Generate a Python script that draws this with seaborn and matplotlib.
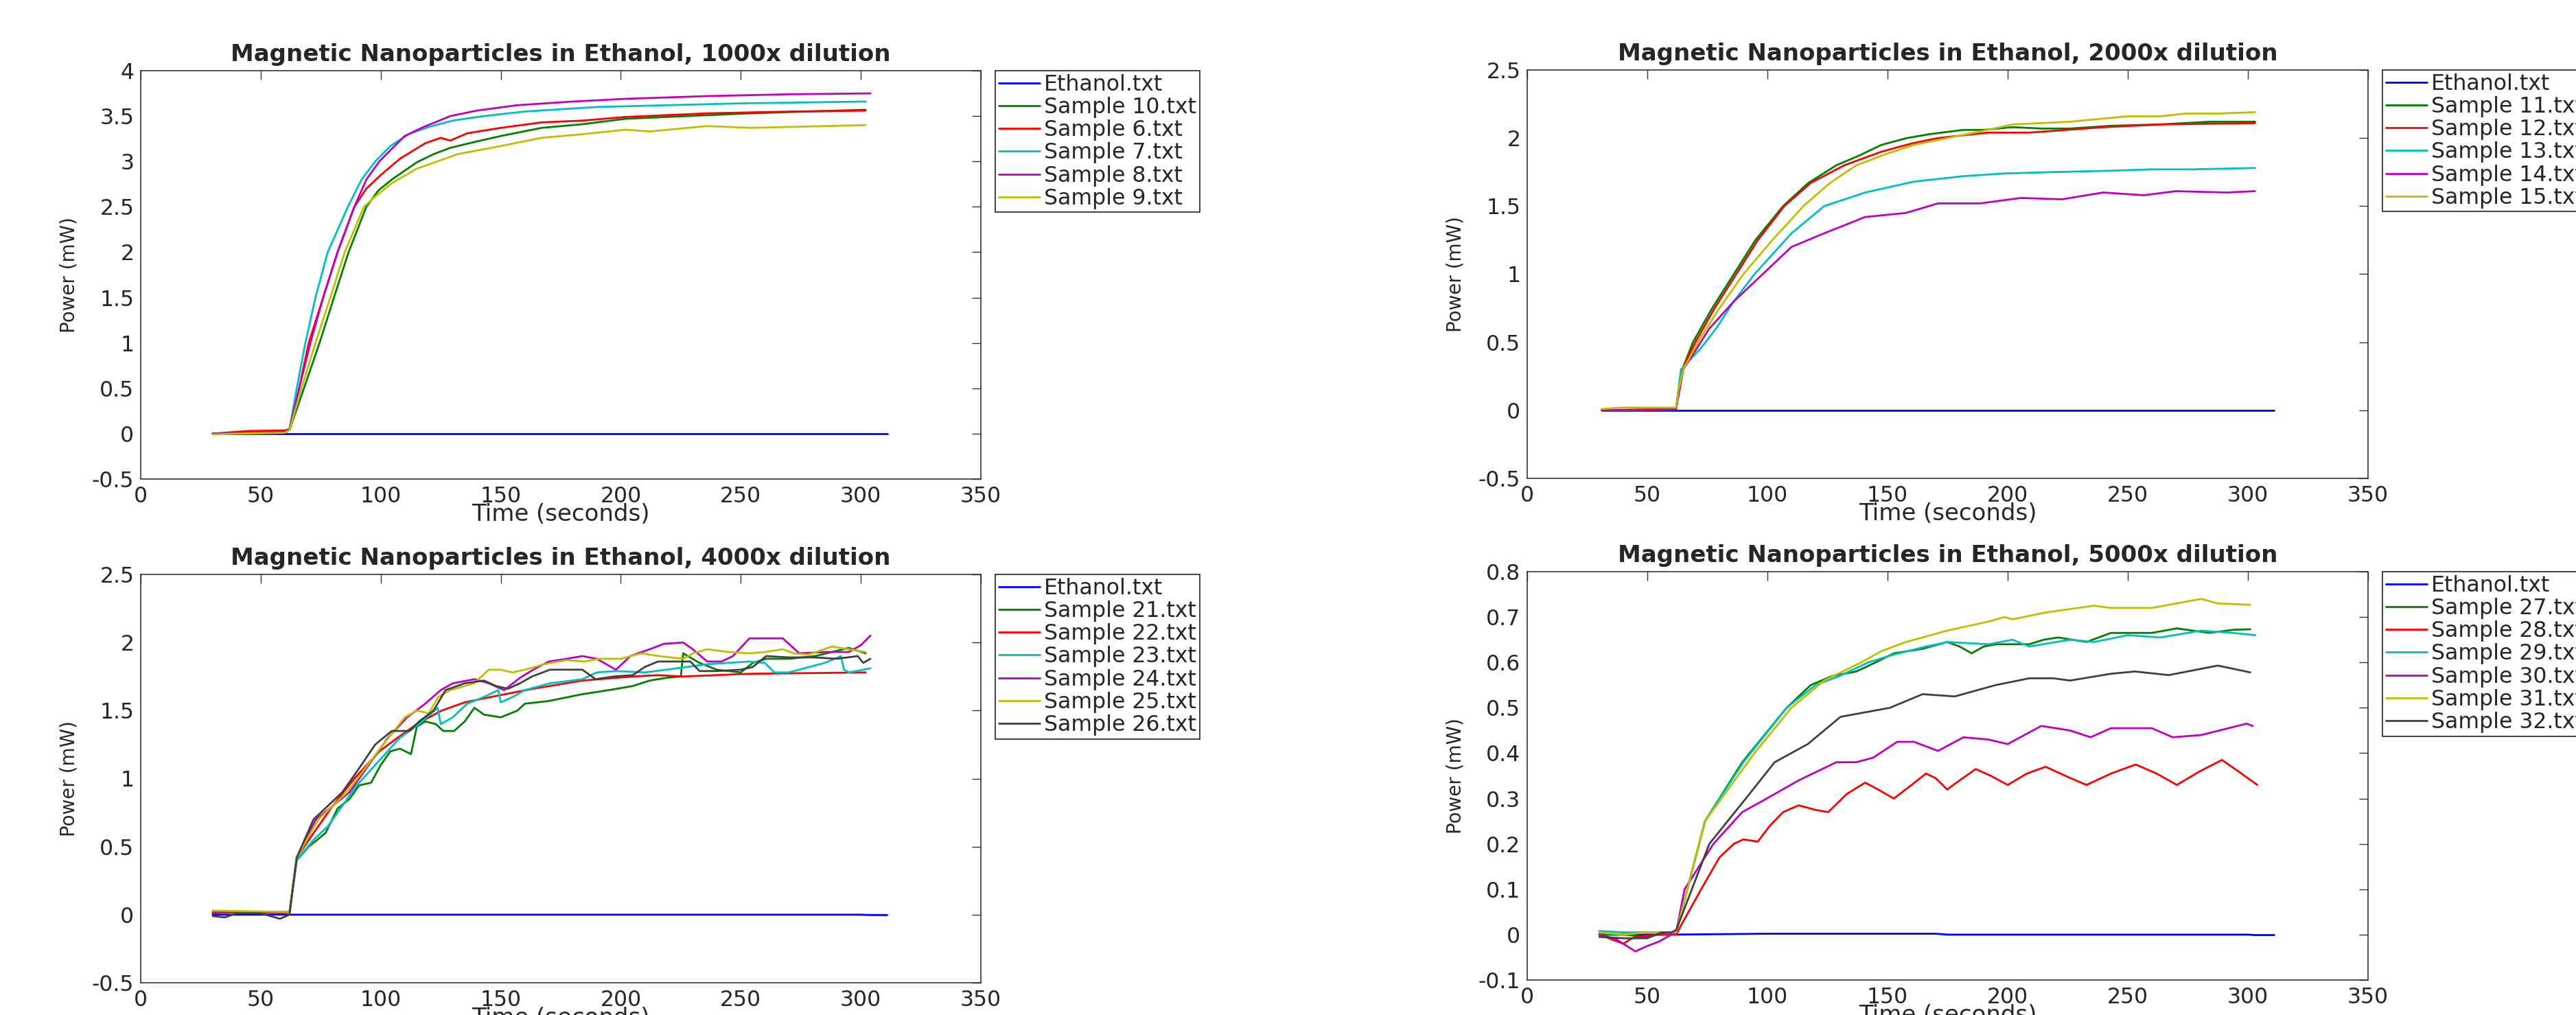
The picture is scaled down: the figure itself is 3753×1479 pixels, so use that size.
import pandas as pd
import seaborn as sns
import matplotlib
matplotlib.use('Agg')
import matplotlib.pyplot as plt
from matplotlib.ticker import FuncFormatter

# ---- readings (time in s, power in mW) taken off the original figure ----

# 1000x dilution
eth_1000 = [(30, 0.0), (120, 0.0), (311, 0.0)]
s10 = [(30, 0.0), (45, 0.01), (60, 0.02), (62, 0.04), (68, 0.5), (74.5, 1.0), (80.5, 1.5),
       (86.6, 2.0), (94, 2.5), (99, 2.68), (104.6, 2.8), (115, 2.99), (122, 3.08), (129, 3.15),
       (140, 3.22), (150, 3.28), (167, 3.37), (184, 3.41), (202, 3.47), (219, 3.49),
       (254, 3.53), (302, 3.57)]
s6 = [(30, 0.0), (45, 0.03), (60, 0.035), (62, 0.05), (66, 0.5), (70, 1.0), (76, 1.5), (82, 2.0),
      (89, 2.5), (94, 2.7), (100, 2.85), (108, 3.03), (118.5, 3.2), (125, 3.26), (129, 3.23),
      (136, 3.31), (150, 3.37), (167, 3.43), (184, 3.45), (202, 3.49), (236, 3.53), (271, 3.55),
      (302, 3.56)]
s7 = [(30, 0.0), (60, 0.01), (62, 0.05), (65, 0.5), (68.6, 1.0), (72.8, 1.5), (77.9, 2.0),
      (86.3, 2.5), (92, 2.8), (97.7, 3.0), (104, 3.17), (111.6, 3.3), (120, 3.38), (130, 3.45),
      (143, 3.5), (160, 3.55), (190, 3.6), (220, 3.62), (250, 3.64), (302, 3.66)]
s8 = [(30, 0.0), (60, 0.01), (62, 0.05), (66, 0.5), (70.7, 1.0), (76, 1.5), (82, 2.0), (89, 2.5),
      (94, 2.8), (99.4, 3.0), (105, 3.15), (110, 3.28), (117, 3.37), (129, 3.5), (140, 3.56),
      (157, 3.62), (180, 3.66), (202, 3.69), (236, 3.72), (270, 3.74), (304, 3.75)]
s9 = [(30, -0.01), (40, 0.0), (60, 0.01), (62, 0.04), (67, 0.5), (72.8, 1.0), (79, 1.5), (85, 2.0),
      (93, 2.5), (98, 2.62), (104.6, 2.76), (115, 2.92), (132, 3.08), (150, 3.17), (167, 3.26),
      (184, 3.3), (202, 3.35), (212, 3.33), (236, 3.39), (254, 3.37), (302, 3.4)]

# 2000x dilution
eth_2000 = [(31, 0.0), (311, 0.0)]
s11 = [(31, 0.0), (40, 0.0), (50, 0.005), (62, 0.01), (63, 0.15), (65, 0.32), (69, 0.5), (77, 0.75),
       (86, 1.0), (95, 1.25), (106.5, 1.5), (117, 1.67), (128.7, 1.8), (138, 1.87), (147.5, 1.95),
       (158, 2.0), (168, 2.03), (181.6, 2.06), (190, 2.06), (202, 2.08), (214, 2.07), (226, 2.07),
       (243, 2.09), (263.6, 2.1), (284, 2.12), (303, 2.12)]
s12 = [(31, 0.0), (50, 0.0), (62, 0.01), (63, 0.15), (65, 0.32), (70, 0.5), (78, 0.75), (87, 1.0),
       (96, 1.25), (107, 1.5), (118, 1.67), (132, 1.8), (147.5, 1.9), (160, 1.96), (171, 2.0),
       (192, 2.04), (209, 2.04), (240, 2.08), (263.6, 2.1), (303, 2.11)]
s13 = [(31, 0.0), (62, 0.01), (64, 0.3), (72, 0.45), (79, 0.61), (86, 0.8), (94.6, 1.0), (110, 1.3),
       (123.6, 1.5), (140.7, 1.6), (161, 1.68), (181.6, 1.72), (198.7, 1.74), (219, 1.75),
       (243, 1.76), (260, 1.77), (277, 1.77), (303, 1.78)]
s14 = [(31, 0.0), (62, 0.01), (65, 0.3), (75.8, 0.6), (86, 0.8), (98, 1.0), (110, 1.2),
       (123.6, 1.3), (140.7, 1.42), (157.7, 1.45), (171, 1.52), (188.5, 1.52), (205.5, 1.56),
       (222.6, 1.55), (239.7, 1.6), (256.7, 1.58), (270, 1.61), (291, 1.6), (303, 1.61)]
s15 = [(31, 0.01), (40, 0.02), (50, 0.02), (62, 0.02), (63, 0.15), (65, 0.3), (71, 0.5), (80, 0.75),
       (90, 1.0), (102, 1.25), (115, 1.5), (126, 1.67), (137, 1.8), (149, 1.88), (161, 1.95),
       (175, 2.0), (189, 2.05), (202, 2.1), (226, 2.12), (250, 2.16), (263.6, 2.16), (274, 2.18),
       (287.5, 2.18), (303, 2.19)]

# 4000x dilution
eth_4000 = [(30, 0.0), (300, 0.0), (303, -0.002), (311, -0.003)]
s21 = [(30, 0.01), (40, 0.02), (50, 0.02), (60, 0.01), (62, 0.02), (65, 0.4), (70, 0.5), (77, 0.6),
       (82, 0.78), (87, 0.85), (91, 0.95), (96, 0.97), (100, 1.1), (104, 1.2), (108, 1.22),
       (112.6, 1.18), (115, 1.38), (118.5, 1.42), (123, 1.4), (126, 1.35), (130.6, 1.35),
       (135, 1.42), (139, 1.52), (143, 1.47), (150, 1.45), (157, 1.5), (160, 1.55), (170, 1.57),
       (184, 1.62), (195, 1.65), (205, 1.68), (212, 1.72), (219, 1.74), (225, 1.75), (226, 1.92),
       (232.8, 1.85), (240, 1.8), (250, 1.78), (255, 1.85), (260.6, 1.88), (270, 1.88),
       (281, 1.9), (295, 1.96), (302, 1.92)]
s22 = [(30, 0.01), (40, 0.02), (60, 0.01), (62, 0.02), (65, 0.42), (72, 0.6), (80, 0.8), (89, 1.0),
       (99.4, 1.2), (107, 1.3), (115, 1.4), (125.4, 1.5), (135, 1.56), (146, 1.6), (163.5, 1.66),
       (184, 1.72), (205, 1.75), (215.5, 1.76), (226, 1.75), (253.6, 1.77), (302, 1.78)]
s23 = [(30, 0.02), (62, 0.02), (65, 0.4), (72, 0.55), (78, 0.65), (84, 0.8), (90, 0.95),
       (97.7, 1.1), (108, 1.3), (116, 1.4), (123.7, 1.52), (125, 1.4), (130, 1.45), (136, 1.55),
       (143, 1.6), (149, 1.65), (150, 1.56), (155, 1.6), (160, 1.65), (170.5, 1.7), (184, 1.73),
       (190, 1.78), (198, 1.79), (210, 1.78), (219, 1.8), (236, 1.84), (253.6, 1.86), (260, 1.85),
       (264, 1.78), (270, 1.78), (285, 1.85), (291.7, 1.9), (293, 1.8), (295, 1.78), (304, 1.81)]
s24 = [(30, 0.02), (62, 0.02), (65, 0.42), (73, 0.7), (87, 0.9), (103, 1.3), (111, 1.45),
       (118.5, 1.55), (125, 1.65), (130, 1.7), (139, 1.73), (145, 1.7), (151.4, 1.65), (158, 1.74),
       (163.5, 1.8), (170, 1.86), (177.4, 1.88), (184, 1.9), (190, 1.88), (198, 1.8), (204, 1.9),
       (212, 1.95), (218, 1.99), (226, 2.0), (230, 1.95), (236, 1.86), (242, 1.86), (246.7, 1.9),
       (253.6, 2.03), (260, 2.03), (267.5, 2.03), (274.4, 1.92), (285, 1.93), (295, 1.93),
       (300, 1.98), (304, 2.05)]
s25 = [(30, 0.03), (62, 0.02), (65, 0.42), (74, 0.7), (86, 0.9), (101, 1.25), (110, 1.45),
       (115, 1.5), (120, 1.48), (124, 1.6), (129, 1.65), (139, 1.7), (145, 1.8), (150, 1.8),
       (155, 1.78), (160, 1.8), (168, 1.84), (177.4, 1.87), (185, 1.86), (191, 1.88), (200, 1.88),
       (208.6, 1.92), (216, 1.9), (226, 1.88), (230, 1.92), (236, 1.95), (245, 1.93),
       (253.6, 1.92), (260, 1.93), (267.5, 1.95), (272, 1.92), (278, 1.91), (288, 1.97),
       (295, 1.95), (302, 1.93)]
s26 = [(30, -0.01), (35, -0.02), (40, 0.01), (50, 0.01), (58, -0.03), (62, 0.0), (65, 0.42),
       (72, 0.7), (84, 0.9), (90, 1.05), (97.7, 1.25), (104.6, 1.35), (112, 1.35), (116, 1.42),
       (122, 1.5), (127, 1.65), (135, 1.7), (143, 1.72), (148, 1.68), (153, 1.66), (158, 1.7),
       (163, 1.75), (170.5, 1.8), (184, 1.8), (189.5, 1.73), (197, 1.75), (205, 1.76), (210, 1.82),
       (215.5, 1.86), (229, 1.86), (232.8, 1.79), (240, 1.79), (250, 1.8), (255, 1.82),
       (260.6, 1.9), (270, 1.89), (281, 1.89), (290, 1.88), (298.7, 1.9), (301, 1.85), (304, 1.88)]

# 5000x dilution
eth_5000 = [(30, 0.0), (60, 0.0), (100, 0.002), (170, 0.002), (175, 0.0), (300, 0.0),
            (303, -0.001), (311, -0.001)]
s27 = [(30, 0.0), (40, 0.0), (50, -0.005), (58, 0.005), (62, 0.005), (74, 0.25), (89.5, 0.38),
       (108, 0.5), (118, 0.55), (127, 0.57), (137, 0.58), (145, 0.6), (152.6, 0.62),
       (164.6, 0.63), (174.8, 0.645), (180, 0.635), (185, 0.62), (190, 0.635), (195.3, 0.64),
       (209, 0.64), (215, 0.65), (221, 0.655), (232.8, 0.645), (243, 0.665), (260, 0.665),
       (270.4, 0.675), (284, 0.665), (294, 0.672), (301, 0.673)]
s28 = [(30, 0.0), (35, -0.01), (40, -0.02), (43, -0.01), (45, -0.005), (55, 0.0), (62, 0.0),
       (64, 0.02), (72.4, 0.1), (80, 0.17), (86, 0.2), (90, 0.21), (96, 0.205), (101, 0.24),
       (106.5, 0.27), (113, 0.285), (120, 0.275), (125.3, 0.27), (133, 0.31), (140.7, 0.335),
       (146, 0.32), (152.6, 0.3), (160, 0.33), (166, 0.355), (170, 0.345), (174.8, 0.32),
       (180, 0.34), (186.7, 0.365), (193, 0.35), (200, 0.33), (208, 0.355), (215.8, 0.37),
       (224, 0.35), (232.8, 0.33), (243, 0.355), (253.3, 0.375), (262, 0.355), (270.4, 0.33),
       (280, 0.36), (289.2, 0.385), (296, 0.36), (303.9, 0.33)]
s29 = [(30, 0.008), (40, 0.005), (50, 0.005), (62, 0.005), (74, 0.25), (90, 0.38), (108, 0.5),
       (120, 0.55), (130, 0.57), (142, 0.6), (151, 0.615), (166, 0.635), (175, 0.645),
       (192, 0.64), (202, 0.65), (209, 0.635), (226, 0.65), (236, 0.645), (250, 0.66),
       (263.6, 0.655), (280.6, 0.67), (294, 0.665), (303, 0.66)]
s30 = [(30, 0.0), (37, -0.01), (45, -0.037), (50, -0.025), (55, -0.015), (60, 0.0), (62, 0.005),
       (65.5, 0.1), (77.5, 0.2), (89.5, 0.27), (99.7, 0.3), (113, 0.34), (128.7, 0.38),
       (137, 0.38), (144, 0.39), (154, 0.425), (161, 0.425), (171, 0.405), (181.6, 0.435),
       (192, 0.43), (200, 0.42), (214, 0.46), (226, 0.45), (234.5, 0.435), (243, 0.455),
       (260, 0.455), (268.7, 0.435), (280.6, 0.44), (299.4, 0.465), (302, 0.46)]
s31 = [(30, 0.005), (40, 0.0), (50, 0.005), (62, 0.005), (74, 0.25), (94.6, 0.4), (110, 0.5),
       (123.6, 0.56), (139, 0.6), (147.5, 0.625), (157.7, 0.645), (174.8, 0.67), (192, 0.69),
       (198.7, 0.7), (202, 0.695), (215.8, 0.71), (236, 0.725), (243, 0.72), (260, 0.72),
       (280.6, 0.74), (287.5, 0.73), (301, 0.727)]
s32 = [(30, -0.005), (40, -0.008), (50, -0.008), (56, 0.005), (60, 0.005), (62, 0.01),
       (75.8, 0.2), (91, 0.3), (103, 0.38), (116.8, 0.42), (130.4, 0.48), (140.7, 0.49),
       (151, 0.5), (164.6, 0.53), (178, 0.525), (195, 0.55), (209, 0.565), (219, 0.565),
       (226, 0.56), (243, 0.575), (253, 0.58), (267, 0.572), (287.5, 0.593), (301, 0.578)]

# matlab style line colours, in plotting order
matlab_colors = [(0, 0, 1), (0, 0.5, 0), (1, 0, 0), (0, 0.75, 0.75),
                 (0.75, 0, 0.75), (0.75, 0.75, 0), (0.25, 0.25, 0.25)]

panels = [
    ('1000x', [('Ethanol.txt', eth_1000), ('Sample 10.txt', s10), ('Sample 6.txt', s6),
               ('Sample 7.txt', s7), ('Sample 8.txt', s8), ('Sample 9.txt', s9)],
     (-0.5, 4.0, 0.5)),
    ('2000x', [('Ethanol.txt', eth_2000), ('Sample 11.txt', s11), ('Sample 12.txt', s12),
               ('Sample 13.txt', s13), ('Sample 14.txt', s14), ('Sample 15.txt', s15)],
     (-0.5, 2.5, 0.5)),
    ('4000x', [('Ethanol.txt', eth_4000), ('Sample 21.txt', s21), ('Sample 22.txt', s22),
               ('Sample 23.txt', s23), ('Sample 24.txt', s24), ('Sample 25.txt', s25),
               ('Sample 26.txt', s26)],
     (-0.5, 2.5, 0.5)),
    ('5000x', [('Ethanol.txt', eth_5000), ('Sample 27.txt', s27), ('Sample 28.txt', s28),
               ('Sample 29.txt', s29), ('Sample 30.txt', s30), ('Sample 31.txt', s31),
               ('Sample 32.txt', s32)],
     (-0.1, 0.8, 0.1)),
]

# axes rectangles in pixels (left, top, right, bottom) of the 3753x1479 canvas
W, H = 3753, 1479
boxes = [(205, 103, 1429, 698), (2225, 102, 3450, 697),
         (205, 837, 1429, 1432), (2225, 833, 3450, 1428)]

sns.set_style('white')
plt.rcParams['font.family'] = ['DejaVu Sans']

fig = plt.figure(figsize=(W / 100, H / 100), dpi=100)

for (dilution, series, (ymin, ymax, ystep)), (l, t, r, b) in zip(panels, boxes):
    ax = fig.add_axes([l / W, 1 - b / H, (r - l) / W, (b - t) / H])

    for (name, pts), color in zip(series, matlab_colors):
        df = pd.DataFrame(pts, columns=['time', 'power'])
        sns.lineplot(data=df, x='time', y='power', ax=ax, color=color, label=name,
                     linewidth=2, estimator=None, sort=False)

    ax.set_xlim(0, 350)
    ax.set_ylim(ymin, ymax)
    ax.set_xticks(range(0, 351, 50))
    n = int(round((ymax - ymin) / ystep))
    ax.set_yticks([round(ymin + i * ystep, 2) for i in range(n + 1)])
    ax.yaxis.set_major_formatter(FuncFormatter(lambda v, p: '%g' % round(v, 2)))

    ax.tick_params(direction='in', length=9.5, width=1, top=True, right=True,
                   labelsize=22.7, pad=7, color='#333333')
    for sp in ax.spines.values():
        sp.set_color('#333333')
        sp.set_linewidth(1.2)

    ax.set_title(f'Magnetic Nanoparticles in Ethanol, {dilution} dilution',
                 fontsize=24.5, fontweight='bold', pad=10)
    ax.set_xlabel('Time (seconds)', fontsize=24.5)
    ax.set_ylabel('Power (mW)', fontsize=20)
    ax.xaxis.set_label_coords(0.5, -0.058)
    ax.yaxis.set_label_coords(-0.074, 0.5)

    leg = ax.legend(loc='upper left', bbox_to_anchor=(1 + 21 / (r - l), 1.0),
                    borderaxespad=0, fancybox=False, framealpha=1, edgecolor='#222222',
                    fontsize=22.7, handlelength=1.9, handletextpad=0.2,
                    labelspacing=0.07, borderpad=0.15)
    leg.get_frame().set_linewidth(1.2)

plt.savefig('out.png', dpi=100)
plt.close()
